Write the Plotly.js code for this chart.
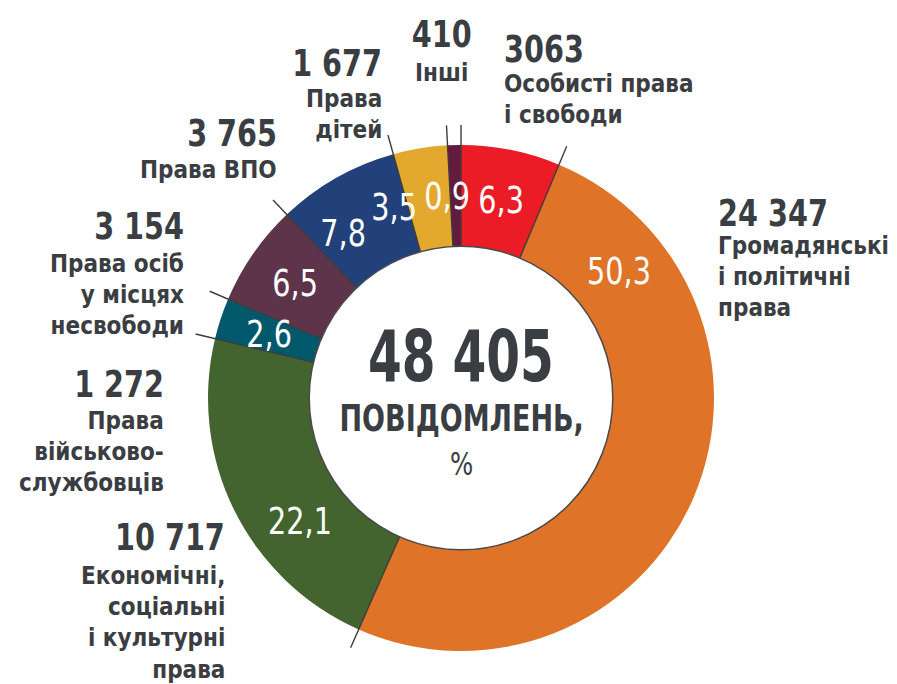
<!DOCTYPE html>
<html><head><meta charset="utf-8">
<script src="https://cdn.plot.ly/plotly-3.0.1.min.js"></script>
<style>html,body{margin:0;padding:0;background:#fff}#chart{width:897px;height:684px}</style>
</head><body><div id="chart"></div>
<script>
// ---- data ----
const categories = [
  'Особисті права<br>і свободи',
  'Громадянські<br>і політичні<br>права',
  'Економічні,<br>соціальні<br>і культурні<br>права',
  'Права<br>військово-<br>службовців',
  'Права осіб<br>у місцях<br>несвободи',
  'Права ВПО',
  'Права<br>дітей',
  'Інші'
];
const counts = [3063, 24347, 10717, 1272, 3154, 3765, 1677, 410];
const countLabels = ['3063', '24 347', '10 717', '1 272', '3 154', '3 765', '1 677', '410'];
const pctLabels = ['6,3', '50,3', '22,1', '2,6', '6,5', '7,8', '3,5', '0,9'];
const totalLabel = '48 405';
const centerLines = ['ПОВІДОМЛЕНЬ,', '%'];

// ---- style ----
const sliceColors = ['#ec1c26', '#df7428', '#43632f', '#00586a', '#5e344b', '#22407a', '#e3a92f', '#621b3e'];
const W = 897, H = 684, CX = 461, CY = 398, R = 253, HOLE = 0.6, RIN = R * HOLE;
const FONT = '"DejaVu Sans Condensed","Liberation Sans Narrow",sans-serif';
const INK = '#3a3e43';
const labelShift = [0, -62, -11, 0, 0, -6, -10, -2.5];
const outerPos = [
  {x: 502, a: 'left',   numCap: 33,  txtCap: 73},
  {x: 716, a: 'left',   numCap: 197, txtCap: 235},
  {x: 227, a: 'right',  numCap: 521, txtCap: 565},
  {x: 166, a: 'right',  numCap: 368, txtCap: 410},
  {x: 186, a: 'right',  numCap: 210, txtCap: 253},
  {x: 279, a: 'right',  numCap: 117, txtCap: 159},
  {x: 384, a: 'right',  numCap: 47,  txtCap: 88},
  {x: 441, a: 'center', numCap: 18,  txtCap: 62}
];
const NUM_SIZE = 38, TXT_SIZE = 24, PCT_SIZE = 38;
const NUM_SQ = 0.84, PCT_SQ = 0.84, TOTAL_SQ = 0.75, WORD_SQ = 0.79, TXT_SQ = 1.0;

const toX = x => x / W, toY = y => 1 - y / H;
const total = counts.reduce((a, b) => a + b, 0);
const start = [], end = [];
let acc = 0;
counts.forEach(v => { start.push(acc / total * 360); acc += v; end.push(acc / total * 360); });
function pt(deg, r) { const a = deg * Math.PI / 180; return [CX + r * Math.sin(a), CY - r * Math.cos(a)]; }

const annotations = [];
const squeeze = [];   // horizontal condensing per annotation (font stand-in)
const shapes = [];
function addAnn(a, sq) { annotations.push(Object.assign({xref: 'paper', yref: 'paper', showarrow: false}, a)); squeeze.push(sq); }

counts.forEach((v, i) => {
  const mid = (start[i] + end[i]) / 2 + labelShift[i];
  const p = pt(mid, (R + RIN) / 2);
  addAnn({x: toX(p[0]), y: toY(p[1]), text: pctLabels[i], xanchor: 'center', yanchor: 'middle',
    font: {family: FONT, size: PCT_SIZE, color: '#ffffff'}}, PCT_SQ);
  const o = outerPos[i];
  addAnn({x: toX(o.x), y: toY(o.numCap - 0.18 * NUM_SIZE - 1), text: '<b>' + countLabels[i] + '</b>',
    xanchor: o.a, yanchor: 'top', align: o.a, font: {family: FONT, size: NUM_SIZE, color: INK}}, NUM_SQ);
  addAnn({x: toX(o.x), y: toY(o.txtCap - 0.18 * TXT_SIZE - 1), text: '<b>' + categories[i] + '</b>',
    xanchor: o.a, yanchor: 'top', align: o.a, font: {family: FONT, size: TXT_SIZE, color: INK}}, TXT_SQ);
});

start.forEach(a => {
  const p0 = pt(a, RIN), p1 = pt(a, R + 20);
  shapes.push({type: 'line', xref: 'paper', yref: 'paper', x0: toX(p0[0]), y0: toY(p0[1]), x1: toX(p1[0]), y1: toY(p1[1]),
    line: {color: '#3c3c3c', width: 1.4}});
});
shapes.push({type: 'circle', xref: 'paper', yref: 'paper', x0: toX(CX - RIN), x1: toX(CX + RIN), y0: toY(CY + RIN), y1: toY(CY - RIN),
  line: {color: '#4a4a4a', width: 1.5}});

addAnn({x: toX(CX), y: toY(356), text: '<b>' + totalLabel + '</b>', xanchor: 'center', yanchor: 'middle',
  font: {family: FONT, size: 72, color: INK}}, TOTAL_SQ);
addAnn({x: toX(CX), y: toY(418), text: '<b>' + centerLines[0] + '</b>', xanchor: 'center', yanchor: 'middle',
  font: {family: FONT, size: 38, color: INK}}, WORD_SQ);
addAnn({x: toX(CX), y: toY(464), text: centerLines[1], xanchor: 'center', yanchor: 'middle',
  font: {family: FONT, size: 32, color: INK}}, 0.85);

const trace = {
  type: 'pie', values: counts, labels: categories, sort: false, direction: 'clockwise', rotation: 0,
  hole: HOLE, textinfo: 'none', hoverinfo: 'label+value+percent', showlegend: false,
  marker: {colors: sliceColors, line: {width: 0}},
  domain: {x: [toX(CX - R), toX(CX + R)], y: [toY(CY + R), toY(CY - R)]}
};

Plotly.newPlot('chart', [trace], {
  width: W, height: H, autosize: false, margin: {l: 0, r: 0, t: 0, b: 0},
  paper_bgcolor: '#ffffff', plot_bgcolor: '#ffffff', showlegend: false,
  annotations: annotations, shapes: shapes
}, {displayModeBar: false, staticPlot: true}).then(gd => {
  gd.querySelectorAll('g.annotation').forEach(g => {
    const i = +g.getAttribute('data-index');
    const sq = squeeze[i];
    if (!sq || sq === 1) return;
    const t = g.querySelector('text');
    if (!t) return;
    const anc = annotations[i].xanchor;
    t.style.transformBox = 'fill-box';
    t.style.transformOrigin = (anc === 'left' ? 'left' : anc === 'right' ? 'right' : 'center') + ' center';
    t.style.transform = 'scaleX(' + sq + ')';
  });
});
</script>
</body></html>
